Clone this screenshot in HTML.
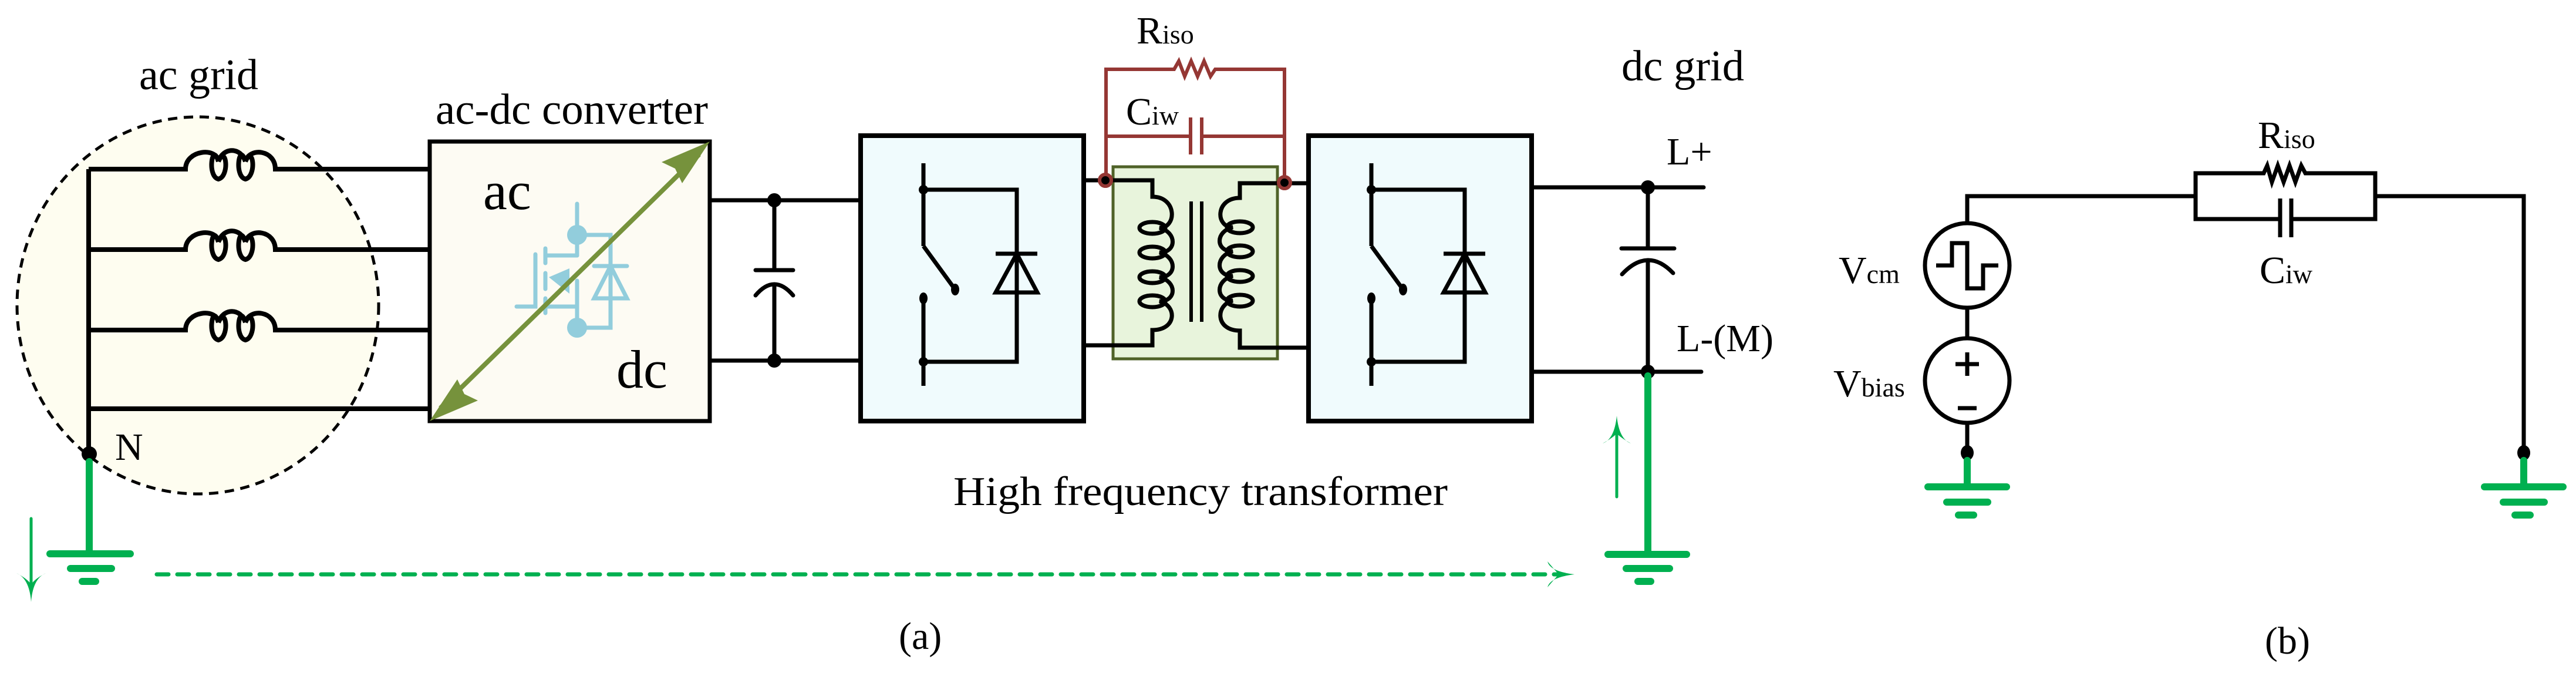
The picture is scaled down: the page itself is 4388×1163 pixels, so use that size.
<!DOCTYPE html>
<html><head><meta charset="utf-8"><style>
html,body{margin:0;padding:0;background:#fff;}
svg{display:block;}
text{font-family:"Liberation Serif",serif;fill:#000;}
</style></head><body>
<svg width="4388" height="1163" viewBox="0 0 4388 1163" xmlns="http://www.w3.org/2000/svg">
<!-- ac grid -->
<ellipse cx="337" cy="520" rx="308" ry="321" fill="#fefdf0" stroke="#000" stroke-width="5" stroke-dasharray="16,11"/>
<text x="237" y="152" font-size="74" textLength="203" lengthAdjust="spacingAndGlyphs">ac grid</text>
<g stroke="#000" stroke-width="8" fill="none">
<line x1="151" y1="288" x2="151" y2="773"/>
<g id="ind">
<path d="M151,288 H316 C316,255 370,250 372,275 M372,275 C362,240 352,300 372,305 C392,300 385,245 372,275 M372,275 C380,250 410,250 418,275 M418,275 C408,240 398,300 418,305 C438,300 431,245 418,275 M418,275 C425,250 469,255 469,288 H732"/>
</g>
<use href="#ind" y="137"/>
<use href="#ind" y="274"/>
<line x1="151" y1="696" x2="732" y2="696"/>
</g>
<circle cx="152" cy="773" r="13" fill="#000"/>
<text x="196" y="783" font-size="66">N</text>
<!-- ac-dc converter -->
<rect x="732" y="241" width="477" height="476" fill="#fdfbf3" stroke="#000" stroke-width="7"/>
<text x="742" y="211" font-size="74" textLength="464" lengthAdjust="spacingAndGlyphs">ac-dc converter</text>
<text x="823" y="356" font-size="92">ac</text>
<text x="1050" y="660" font-size="92">dc</text>
<!-- mosfet -->
<g stroke="#92cddc" stroke-width="7" fill="none" stroke-linecap="round">
<line x1="983" y1="347" x2="983" y2="435"/>
<path d="M983,400 H1040 V558 H983"/>
<line x1="1012" y1="453" x2="1068" y2="453"/>
<path d="M1040,453 L1068,508 H1012 Z"/>
<path d="M880,522 H912 V433"/>
<line x1="929" y1="423" x2="929" y2="448"/>
<line x1="929" y1="465" x2="929" y2="492"/>
<line x1="929" y1="508" x2="929" y2="533"/>
<line x1="929" y1="435" x2="983" y2="435"/>
<path d="M929,522 H983"/>
<line x1="983" y1="478" x2="983" y2="558"/>
</g>
<path d="M935,472 L970,457 L970,500 Z" fill="#92cddc"/>
<circle cx="983" cy="400" r="17" fill="#92cddc"/>
<circle cx="983" cy="558" r="17" fill="#92cddc"/>
<!-- green double arrow -->
<line x1="750" y1="695" x2="1191" y2="263" stroke="#76923c" stroke-width="8"/>
<path d="M1209,241 L1162,312 L1150,287 L1127,276 Z" fill="#76923c"/>
<path d="M732,717 L779,646 L791,671 L814,682 Z" fill="#76923c"/>
<!-- dc link -->
<g stroke="#000" stroke-width="7" fill="none">
<line x1="1209" y1="341" x2="1466" y2="341"/>
<line x1="1209" y1="614" x2="1466" y2="614"/>
<line x1="1319" y1="341" x2="1319" y2="460"/>
<line x1="1319" y1="486" x2="1319" y2="614"/>
<line x1="1287" y1="460" x2="1351" y2="460" stroke-linecap="round"/>
<path d="M1287,503 Q1319,465 1351,503" stroke-linecap="round"/>
</g>
<circle cx="1319" cy="341" r="12" fill="#000"/>
<circle cx="1319" cy="614" r="12" fill="#000"/>
<!-- converter boxes -->
<g id="br">
<rect x="1466" y="231" width="380" height="486" fill="#f0fbfd" stroke="#000" stroke-width="8"/>
<g stroke="#000" stroke-width="7" fill="none">
<line x1="1573" y1="278" x2="1573" y2="419"/>
<line x1="1573" y1="419" x2="1627" y2="493"/>
<line x1="1573" y1="508" x2="1573" y2="657"/>
<path d="M1573,323 H1732 V616 H1573"/>
<line x1="1696" y1="432" x2="1767" y2="432"/>
<path d="M1732,432 L1767,498 H1696 Z"/>
</g>
<circle cx="1573" cy="323" r="8" fill="#000"/>
<circle cx="1573" cy="616" r="8" fill="#000"/>
<ellipse cx="1573" cy="508" rx="7" ry="10" fill="#000"/>
<ellipse cx="1627" cy="493" rx="7" ry="10" fill="#000"/>
</g>
<use href="#br" x="763"/>
<!-- transformer -->
<rect x="1896" y="284" width="280" height="327" fill="#e8f4dc" stroke="#4f6228" stroke-width="5"/>
<g stroke="#000" stroke-width="7" fill="none">
<path d="M1846,307 H1963 V335 C2005,335 2005,388 1975,388 C2005,395 2005,430 1975,430 C2005,437 2005,472 1975,472 C2005,479 2005,513 1975,513 C2005,520 2005,562 1963,562 V588 H1846"/>
<ellipse cx="1963" cy="388" rx="22" ry="10"/>
<ellipse cx="1963" cy="430" rx="22" ry="10"/>
<ellipse cx="1963" cy="472" rx="22" ry="10"/>
<ellipse cx="1963" cy="513" rx="22" ry="10"/>
<path d="M2229,312 H2112 V337 C2070,337 2070,387 2100,387 C2070,394 2070,428 2100,428 C2070,435 2070,470 2100,470 C2070,477 2070,512 2100,512 C2070,519 2070,563 2112,563 V592 H2229"/>
<ellipse cx="2112" cy="387" rx="22" ry="10"/>
<ellipse cx="2112" cy="428" rx="22" ry="10"/>
<ellipse cx="2112" cy="470" rx="22" ry="10"/>
<ellipse cx="2112" cy="512" rx="22" ry="10"/>
<line x1="2029" y1="343" x2="2029" y2="548" stroke-width="6"/>
<line x1="2047" y1="343" x2="2047" y2="548" stroke-width="6"/>
</g>
<!-- red parasitics -->
<g stroke="#953734" stroke-width="6" fill="none">
<path d="M1884,307 V118 H2000 L2008,104 L2018,130 L2029,104 L2040,130 L2051,104 L2062,130 L2070,118 H2188 V311"/>
<path d="M1884,232 H2028 M2047,232 H2188"/>
<line x1="2028" y1="200" x2="2028" y2="263"/>
<line x1="2047" y1="200" x2="2047" y2="263"/>
</g>
<circle cx="1883" cy="307" r="10" fill="#000" stroke="#953734" stroke-width="6"/>
<circle cx="2188" cy="311" r="10" fill="#000" stroke="#953734" stroke-width="6"/>
<text x="1936" y="74" font-size="66">R<tspan font-size="46">iso</tspan></text>
<text x="1918" y="212" font-size="66">C<tspan font-size="46">iw</tspan></text>
<text x="1624" y="860" font-size="70" textLength="842" lengthAdjust="spacingAndGlyphs">High frequency transformer</text>
<!-- dc grid side -->
<g stroke="#000" stroke-width="7" fill="none" stroke-linecap="round">
<line x1="2609" y1="319" x2="2902" y2="319"/>
<line x1="2609" y1="633" x2="2898" y2="633"/>
<line x1="2807" y1="319" x2="2807" y2="423"/>
<line x1="2807" y1="445" x2="2807" y2="633"/>
<line x1="2762" y1="423" x2="2852" y2="423"/>
<path d="M2763,467 Q2807,420 2850,465"/>
</g>
<circle cx="2807" cy="319" r="12" fill="#000"/>
<circle cx="2807" cy="633" r="12" fill="#000"/>
<text x="2762" y="137" font-size="74" textLength="209" lengthAdjust="spacingAndGlyphs">dc grid</text>
<text x="2839" y="280" font-size="66">L+</text>
<text x="2856" y="598" font-size="66">L-(M)</text>
<!-- green grounds (a) -->
<g stroke="#00b050" stroke-linecap="round" fill="none">
<line x1="152" y1="786" x2="152" y2="943" stroke-width="12"/>
<line x1="85" y1="943" x2="222" y2="943" stroke-width="12"/>
<line x1="120" y1="968" x2="190" y2="968" stroke-width="12"/>
<line x1="140" y1="990" x2="163" y2="990" stroke-width="12"/>
<line x1="53" y1="883" x2="53" y2="1000" stroke-width="5"/>
<line x1="2807" y1="640" x2="2807" y2="944" stroke-width="12"/>
<line x1="2739" y1="944" x2="2873" y2="944" stroke-width="12"/>
<line x1="2770" y1="968" x2="2844" y2="968" stroke-width="12"/>
<line x1="2790" y1="990" x2="2812" y2="990" stroke-width="12"/>
<line x1="2754" y1="730" x2="2754" y2="846" stroke-width="5"/>
<line x1="267" y1="978" x2="2660" y2="978" stroke-width="7" stroke-dasharray="20,15"/>
</g>
<path d="M28,976 Q50,985 53,1025 Q56,985 78,976 Q60,985 53,995 Q46,985 28,976 Z" fill="#00b050"/>
<path d="M2730,755 Q2750,748 2754,708 Q2758,748 2778,755 Q2760,745 2754,738 Q2748,745 2730,755 Z" fill="#00b050"/>
<path d="M2682,978 Q2640,983 2636,1000 L2655,978 L2636,956 Q2640,973 2682,978 Z" fill="#00b050"/>
<text x="1531" y="1105" font-size="66">(a)</text>
<!-- (b) -->
<g stroke="#000" stroke-width="7" fill="none">
<path d="M3351,380 V334 H3740"/>
<path d="M3740,334 V295 H3856 L3862,282 L3870,310 L3880,282 L3890,310 L3900,282 L3910,310 L3920,282 L3927,295 H4046 V373 H3903 M3884,373 H3740 V334"/>
<line x1="3884" y1="338" x2="3884" y2="404"/>
<line x1="3903" y1="338" x2="3903" y2="404"/>
<path d="M4046,334 H4299 V771"/>
<ellipse cx="3351" cy="452" rx="72" ry="72"/>
<path d="M3298,452 H3325 V414 H3351 V491 H3378 V452 H3404"/>
<line x1="3351" y1="524" x2="3351" y2="576"/>
<ellipse cx="3351" cy="648" rx="72" ry="72"/>
<line x1="3351" y1="720" x2="3351" y2="771"/>
<line x1="3351" y1="600" x2="3351" y2="640"/>
<line x1="3331" y1="620" x2="3371" y2="620"/>
<line x1="3335" y1="695" x2="3367" y2="695"/>
</g>
<ellipse cx="3351" cy="771" rx="11" ry="13" fill="#000"/>
<ellipse cx="4299" cy="771" rx="11" ry="13" fill="#000"/>
<g stroke="#00b050" stroke-width="12" stroke-linecap="round">
<line x1="3351" y1="784" x2="3351" y2="829"/>
<line x1="3284" y1="829" x2="3418" y2="829"/>
<line x1="3316" y1="855" x2="3386" y2="855"/>
<line x1="3336" y1="877" x2="3362" y2="877"/>
<line x1="4299" y1="784" x2="4299" y2="829"/>
<line x1="4232" y1="829" x2="4366" y2="829"/>
<line x1="4264" y1="855" x2="4334" y2="855"/>
<line x1="4284" y1="877" x2="4310" y2="877"/>
</g>
<text x="3132" y="482" font-size="66">V<tspan font-size="46">cm</tspan></text>
<text x="3123" y="675" font-size="66">V<tspan font-size="46">bias</tspan></text>
<text x="3846" y="252" font-size="66">R<tspan font-size="46">iso</tspan></text>
<text x="3849" y="482" font-size="66">C<tspan font-size="46">iw</tspan></text>
<text x="3858" y="1113" font-size="66">(b)</text>
</svg>
</body></html>
